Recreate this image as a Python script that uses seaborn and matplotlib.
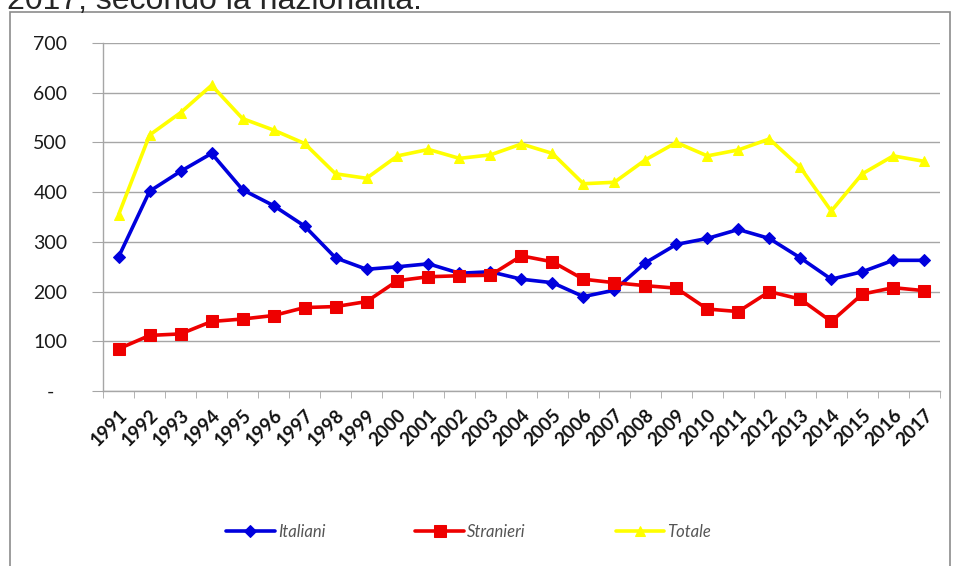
import matplotlib
matplotlib.use("Agg")
import matplotlib.pyplot as plt
import seaborn as sns
import pandas as pd
from matplotlib.patches import Rectangle
from matplotlib.ticker import FixedLocator, FuncFormatter

years = [str(y) for y in range(1991, 2018)]
italiani = [270, 402, 442, 478, 405, 373, 332, 268, 245, 250, 256, 237, 240, 225,
            218, 190, 203, 258, 295, 307, 325, 307, 268, 225, 240, 263, 263]
stranieri = [85, 112, 115, 140, 145, 152, 168, 170, 180, 222, 230, 232, 233, 272,
             260, 225, 218, 212, 207, 165, 160, 200, 185, 140, 195, 208, 202]
totale = [355, 515, 560, 615, 548, 525, 498, 437, 428, 473, 486, 468, 475, 497,
          478, 417, 420, 465, 500, 473, 485, 507, 450, 362, 437, 473, 462]
series_names = ["Italiani", "Stranieri", "Totale"]

df = pd.DataFrame({"anno": years, "Italiani": italiani,
                   "Stranieri": stranieri, "Totale": totale})
df["pos"] = range(len(df))
long_df = df.melt(id_vars=["anno", "pos"], value_vars=series_names,
                  var_name="serie", value_name="valore")

sns.set_style("white")
plt.rcParams["font.family"] = ["Lato", "DejaVu Sans"]

fig = plt.figure(figsize=(9.55, 5.66), dpi=100)
ax = fig.add_axes([0.108, 0.309, 0.876, 0.615])

palette = {"Italiani": "#0000dd", "Stranieri": "#ee0000", "Totale": "#ffff00"}
markers = {"Italiani": "D", "Stranieri": "s", "Totale": "^"}
sizes = {"Italiani": 6, "Stranieri": 9, "Totale": 7}

for name in series_names:
    sub = long_df[long_df["serie"] == name]
    sns.lineplot(data=sub, x="pos", y="valore", ax=ax, color=palette[name],
                 marker=markers[name], markersize=sizes[name],
                 markeredgecolor=palette[name], linewidth=2.6, label=name)

ax.set_xlim(-0.5, len(years) - 0.5)
ax.set_ylim(0, 700)
ax.set_xlabel("")
ax.set_ylabel("")

# y axis
ax.set_yticks(range(0, 701, 100))
ax.yaxis.set_major_formatter(FuncFormatter(lambda v, p: "-" if v == 0 else f"{int(v)}"))
ax.grid(axis="y", color="#a6a6a6", linewidth=1)
ax.tick_params(axis="y", length=8, color="#a6a6a6", labelsize=14, pad=30,
               left=True, labelcolor="#1a1a1a")
for lbl in ax.get_yticklabels():
    lbl.set_horizontalalignment("center")

# x axis: labels at centers, tick marks at boundaries
ax.set_xticks(range(len(years)))
ax.set_xticklabels(years, rotation=45, ha="right", rotation_mode="anchor",
                   fontsize=13.5, fontweight="bold", color="#111111")
ax.tick_params(axis="x", length=0, pad=11)
ax.xaxis.set_minor_locator(FixedLocator([i - 0.5 for i in range(len(years) + 1)]))
ax.tick_params(axis="x", which="minor", length=5, color="#a6a6a6", bottom=True)

for side in ["top", "right"]:
    ax.spines[side].set_visible(False)
for side in ["left", "bottom"]:
    ax.spines[side].set_color("#a6a6a6")
    ax.spines[side].set_linewidth(1)

leg = ax.legend(loc="center", bbox_to_anchor=(0.437, -0.405), ncol=3,
                frameon=False, columnspacing=5.4, handlelength=2.9,
                handletextpad=0.2, prop={"style": "italic", "size": 12})
for t in leg.get_texts():
    t.set_color("#555555")

# outer chart frame
fig.patches.append(Rectangle((10 / 955, -0.05), 940 / 955, 1 - 12 / 566 + 0.05,
                             transform=fig.transFigure, fill=False,
                             edgecolor="#8c8c8c", linewidth=1.2))

fig.text(7 / 955, 1 - 9 / 566, "2017, secondo la nazionalità.", fontsize=23,
         family=["Liberation Sans", "DejaVu Sans"], va="baseline", ha="left")

fig.savefig("out.png", dpi=100)
